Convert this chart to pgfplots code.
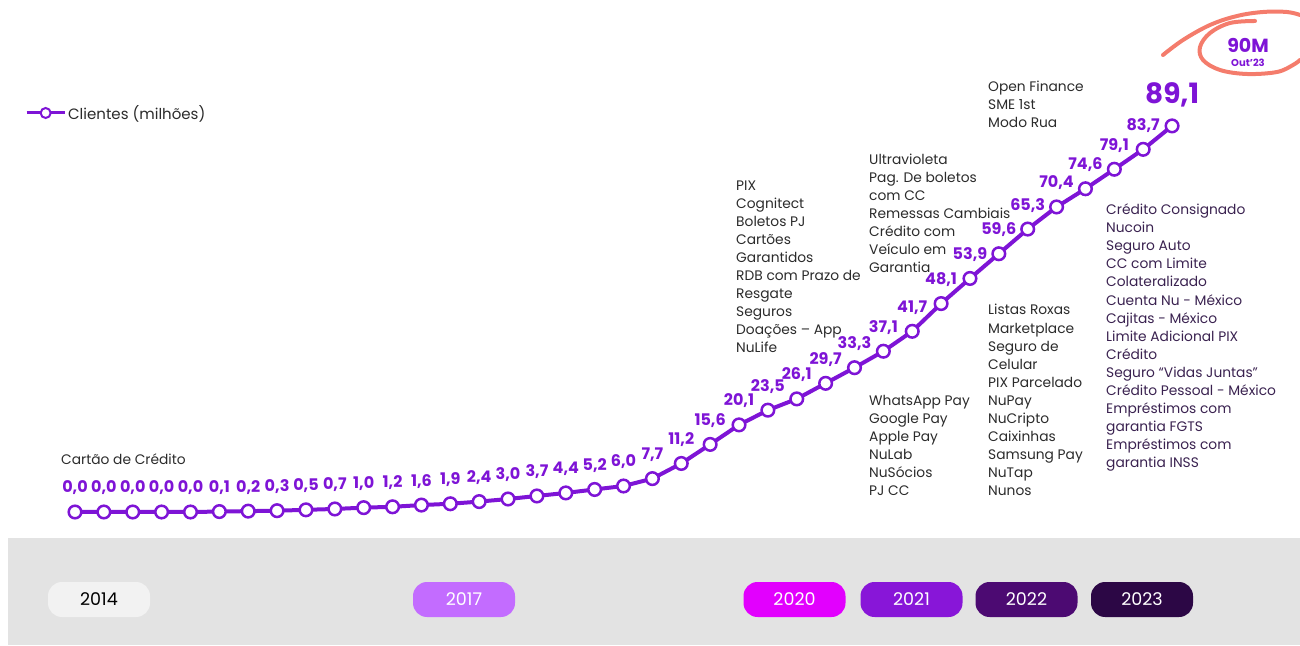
\documentclass[border=0pt]{standalone}
\usepackage{fontspec}
\setmainfont{Poppins}
\usepackage{pgfplots}
\pgfplotsset{compat=1.18}
\definecolor{nupurple}{HTML}{7E14D6}
\definecolor{coral}{HTML}{F47C6C}
\definecolor{txt}{HTML}{2B2B2B}
\definecolor{txtp}{HTML}{3A2250}
\definecolor{band}{HTML}{E3E3E3}
\definecolor{y2014}{HTML}{F2F2F2}
\definecolor{y2017}{HTML}{C36CFF}
\definecolor{y2020}{HTML}{E200FE}
\definecolor{y2021}{HTML}{8816D8}
\definecolor{y2022}{HTML}{4C0A72}
\definecolor{y2023}{HTML}{2C0745}
\begin{document}
\begin{tikzpicture}[x=1pt,y=1pt]
\useasboundingbox (0,0) rectangle (1300,645);
\fill[band] (8,0) rectangle (1300,107);
\tikzset{pill/.style={rounded corners=14pt, minimum width=102pt, minimum height=35pt, inner sep=0pt, font=\fontsize{17.5}{17.5}\selectfont, text=white}}
\node[pill, fill=y2014, text=black] at (99,45.5) {2014};
\node[pill, fill=y2017] at (464,45.5) {2017};
\node[pill, fill=y2020] at (794.5,45.5) {2020};
\node[pill, fill=y2021] at (911.5,45.5) {2021};
\node[pill, fill=y2022] at (1026.5,45.5) {2022};
\node[pill, fill=y2023] at (1142,45.5) {2023};
\begin{axis}[at={(0,0)}, anchor=south west, x=28.87pt, y=4.333pt,
  xmin=-2.5978, xmax=42.4316, ymin=-30.6947, ymax=118.163,
  hide axis, clip=false,
  /pgf/number format/use comma, /pgf/number format/fixed,
  /pgf/number format/fixed zerofill, /pgf/number format/precision=1,
  /pgf/number format/assume math mode=true,
  legend style={at={(axis description cs:0.0192,0.8248)}, anchor=west, draw=none, fill=none,
    inner sep=0pt, font=\fontsize{15}{15}\selectfont, text=txt, nodes={inner sep=2pt}},
  legend cell align=left]
\addplot[nupurple, line width=4pt, mark=*, mark size=6.3pt,
  mark options={fill=white, draw=nupurple, line width=2.5pt},
  legend image code/.code={\draw[nupurple, line width=3pt] (0pt,0pt) -- (38pt,0pt);
    \draw[nupurple, line width=2pt, fill=white] (19pt,0pt) circle (5pt);}]
coordinates {
(0,0.0) (1,0.0) (2,0.0) (3,0.0) (4,0.0) (5,0.1) (6,0.2) (7,0.3) (8,0.5) (9,0.7)
(10,1.0) (11,1.2) (12,1.6) (13,1.9) (14,2.4) (15,3.0) (16,3.7) (17,4.4) (18,5.2) (19,6.0)
(20,7.7) (21,11.2) (22,15.6) (23,20.1) (24,23.5) (25,26.1) (26,29.7) (27,33.3) (28,37.1) (29,41.7)
(30,48.1) (31,53.9) (32,59.6) (33,65.3) (34,70.4) (35,74.6) (36,79.1) (37,83.7) (38,89.1)};
\addlegendentry{Clientes (milhões)}
\addplot[draw=none, mark=none, forget plot, nodes near coords,
  every node near coord/.append style={anchor=base, yshift=19pt, inner sep=0pt, text=nupurple,
    font=\fontsize{16}{16}\selectfont\bfseries}]
coordinates {
(0,0.0) (1,0.0) (2,0.0) (3,0.0) (4,0.0) (5,0.1) (6,0.2) (7,0.3) (8,0.5) (9,0.7)
(10,1.0) (11,1.2) (12,1.6) (13,1.9) (14,2.4) (15,3.0) (16,3.7) (17,4.4) (18,5.2) (19,6.0)
(20,7.7) (21,11.2) (22,15.6) (23,20.1) (24,23.5) (25,26.1) (26,29.7) (27,33.3) (28,37.1) (29,41.7)
(30,48.1) (31,53.9) (32,59.6) (33,65.3) (34,70.4) (35,74.6) (36,79.1) (37,83.7)};
\addplot[draw=none, mark=none, forget plot, nodes near coords,
  every node near coord/.append style={anchor=base, yshift=22pt, inner sep=0pt, text=nupurple,
    font=\fontsize{28}{28}\selectfont\bfseries}]
coordinates {(38,89.1)};
\end{axis}
\tikzset{note/.style={anchor=base west, align=left, inner sep=0pt, text=txt, font=\fontsize{13.8}{18.1}\selectfont}}
\node[note] at (61,180) {Cartão de Crédito};
\node[note] at (736,292) {PIX\\Cognitect\\Boletos PJ\\Cartões\\Garantidos\\RDB com Prazo de\\Resgate\\Seguros\\Doações – App\\NuLife};
\node[note] at (869,372) {Ultravioleta\\Pag. De boletos\\com CC\\Remessas Cambiais\\Crédito com\\Veículo em\\Garantia};
\node[note] at (869,149) {WhatsApp Pay\\Google Pay\\Apple Pay\\NuLab\\NuSócios\\PJ CC};
\node[note] at (988,149) {Listas Roxas\\Marketplace\\Seguro de\\Celular\\PIX Parcelado\\NuPay\\NuCripto\\Caixinhas\\Samsung Pay\\NuTap\\Nunos};
\node[note] at (988,517) {Open Finance\\SME 1st\\Modo Rua};
\node[note, text=txtp] at (1106,177) {Crédito Consignado\\Nucoin\\Seguro Auto\\CC com Limite\\Colateralizado\\Cuenta Nu - México\\Cajitas - México\\Limite Adicional PIX\\Crédito\\Seguro “Vidas Juntas”\\Crédito Pessoal - México\\Empréstimos com\\garantia FGTS\\Empréstimos com\\garantia INSS};
\draw[coral, line width=4pt, line cap=round] plot[smooth, tension=0.6] coordinates {(1163,590) (1183,605) (1210,620) (1237,629) (1263,633) (1287,633) (1300,630)};
\draw[coral, line width=4pt, line cap=round] plot[smooth, tension=0.6] coordinates {(1255,624) (1230,622) (1210,612) (1200,598) (1203,585) (1220,575) (1247,571) (1277,573) (1293,580) (1300,585)};
\node[text=nupurple, inner sep=0pt, font=\fontsize{19}{19}\selectfont\bfseries] at (1248,600) {90M};
\node[text=nupurple, inner sep=0pt, font=\fontsize{10}{10}\selectfont\bfseries] at (1248,582) {Out’23};
\end{tikzpicture}
\end{document}
